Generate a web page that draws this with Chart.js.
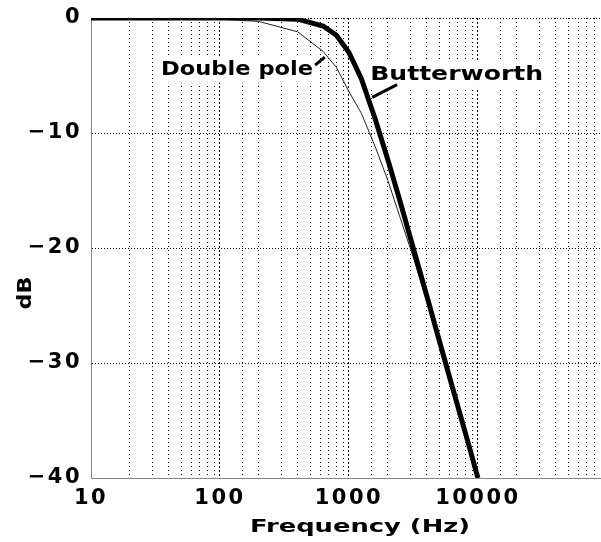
<!DOCTYPE html>
<html lang="en">
<head>
    <meta charset="UTF-8">
    <title>Double pole vs Butterworth</title>
    <script src="https://cdn.jsdelivr.net/npm/chart.js"></script>
    <style>
        body {
            margin: 0;
            padding: 0;
            background: #fff;
            overflow: hidden;
        }
        canvas {
            display: block;
        }
    </style>
</head>
<body>
    <canvas id="chart" width="601" height="542"></canvas>

    <script>
        const freqs = [10, 20, 50, 100, 200, 400, 630, 800, 1000, 1250, 1600, 2000, 2500, 3150, 4000, 5000, 6300, 8000, 10000];
        const butterworthDb = [0, 0, 0, 0, 0, -0.1, -0.7, -1.5, -3.0, -5.3, -8.8, -12.3, -16.0, -20.0, -24.1, -28.0, -32.0, -36.1, -40.0];
        const doublePoleDb = [0, 0, 0, -0.1, -0.3, -1.2, -2.9, -4.3, -6.4, -8.3, -11.2, -14.1, -17.4, -20.8, -24.6, -28.3, -32.2, -36.2, -40.0];

        const xLabels = [10, 100, 1000, 10000];
        const xMajors = [10, 100, 1000, 10000];

        // where the two curve names sit, in chart units (Hz, dB)
        const notes = [
            { text: 'Double pole', at: [527, -4.5], align: 'right', width: 152, lead: [[547, -4.1], [650, -3.4]] },
            { text: 'Butterworth', at: [1460, -4.95], align: 'left', width: 173, lead: [[1514, -6.9], [2360, -5.8]] }
        ];

        function toPoints(ys) {
            return freqs.map((f, i) => ({ x: f, y: ys[i] }));
        }

        function stretchText(ctx, text, x, y, size, width, align) {
            ctx.save();
            ctx.letterSpacing = '0px';
            ctx.font = 'bold ' + size + 'px "DejaVu Sans"';
            const w = ctx.measureText(text).width;
            ctx.translate(x, y);
            ctx.scale(width / w, 1);
            ctx.textAlign = align;
            ctx.textBaseline = 'middle';
            ctx.fillStyle = '#000';
            ctx.fillText(text, 0, 0);
            ctx.restore();
        }

        function noPadding(scale) {
            scale.paddingLeft = 0;
            scale.paddingRight = 0;
            scale.paddingTop = 0;
            scale.paddingBottom = 0;
        }

        const textPlugin = {
            id: 'texts',
            beforeDraw(chart) {
                chart.ctx.letterSpacing = '2.5px';
            },
            beforeDatasetsDraw(chart) {
                const ctx = chart.ctx;
                const xs = chart.scales.x;
                const ys = chart.scales.y;
                notes.forEach(n => {
                    const px = xs.getPixelForValue(n.at[0]);
                    const py = ys.getPixelForValue(n.at[1]);
                    const left = n.align === 'right' ? px - n.width : px;
                    ctx.save();
                    ctx.fillStyle = '#fff';
                    ctx.fillRect(left - 4, py - 13, n.width + 8, 26);
                    ctx.restore();
                    stretchText(ctx, n.text, px, py, 20, n.width, n.align);

                    ctx.save();
                    ctx.strokeStyle = '#000';
                    ctx.lineWidth = 3;
                    ctx.beginPath();
                    ctx.moveTo(xs.getPixelForValue(n.lead[0][0]), ys.getPixelForValue(n.lead[0][1]));
                    ctx.lineTo(xs.getPixelForValue(n.lead[1][0]), ys.getPixelForValue(n.lead[1][1]));
                    ctx.stroke();
                    ctx.restore();
                });
            },
            afterDraw(chart) {
                const ctx = chart.ctx;
                stretchText(ctx, 'Frequency (Hz)', 360, 528, 17, 220, 'center');
                ctx.save();
                ctx.translate(26, 293);
                ctx.rotate(-Math.PI / 2);
                stretchText(ctx, 'dB', 0, 0, 20, 33, 'center');
                ctx.restore();
            }
        };

        Chart.defaults.font.family = '"DejaVu Sans", sans-serif';
        Chart.defaults.color = '#000';

        new Chart(document.getElementById('chart'), {
            type: 'line',
            data: {
                datasets: [
                    {
                        label: 'Butterworth',
                        data: toPoints(butterworthDb),
                        borderColor: '#000',
                        borderWidth: 5,
                        pointRadius: 0,
                        tension: 0
                    },
                    {
                        label: 'Double pole',
                        data: toPoints(doublePoleDb),
                        borderColor: '#222',
                        borderWidth: 1,
                        pointRadius: 0,
                        tension: 0
                    }
                ]
            },
            options: {
                responsive: false,
                animation: false,
                layout: { autoPadding: false, padding: { top: 18, right: 0, bottom: 0, left: 0 } },
                plugins: {
                    legend: { display: false },
                    tooltip: { enabled: false }
                },
                scales: {
                    x: {
                        type: 'logarithmic',
                        min: 10,
                        max: 90000,
                        afterFit(scale) { scale.height = 64; noPadding(scale); },
                        border: { display: true, color: '#888', width: 1, dash: [1, 3] },
                        grid: {
                            drawTicks: false,
                            color: ctx => (ctx.tick && xMajors.includes(ctx.tick.value)) ? 'rgba(0,0,0,0)' : '#000',
                            lineWidth: 1
                        },
                        ticks: {
                            autoSkip: false,
                            maxRotation: 0,
                            padding: 8,
                            font: { size: 21, weight: 'bold' },
                            callback: v => xLabels.includes(v) ? String(v) : ''
                        }
                    },
                    x2: {
                        type: 'logarithmic',
                        position: 'bottom',
                        min: 10,
                        max: 90000,
                        afterFit(scale) { scale.height = 0; noPadding(scale); },
                        border: { display: false, dash: [2, 2] },
                        grid: {
                            drawTicks: false,
                            color: ctx => (ctx.tick && ctx.tick.value > 10 && xMajors.includes(ctx.tick.value)) ? '#000' : 'rgba(0,0,0,0)',
                            lineWidth: 1
                        },
                        ticks: { display: false }
                    },
                    y: {
                        min: -40,
                        max: 0,
                        afterFit(scale) { scale.width = 91; noPadding(scale); },
                        border: { display: true, color: '#888', width: 1, dash: [1, 2] },
                        grid: {
                            drawTicks: false,
                            color: ctx => (ctx.tick && ctx.tick.value === -40) ? 'rgba(0,0,0,0)' : '#000',
                            lineWidth: 1
                        },
                        ticks: {
                            stepSize: 10,
                            padding: 9,
                            font: { size: 21, weight: 'bold' },
                            callback: v => v === 0 ? '0' : '\u2212' + Math.abs(v)
                        }
                    }
                }
            },
            plugins: [textPlugin]
        });
    </script>
</body>
</html>
